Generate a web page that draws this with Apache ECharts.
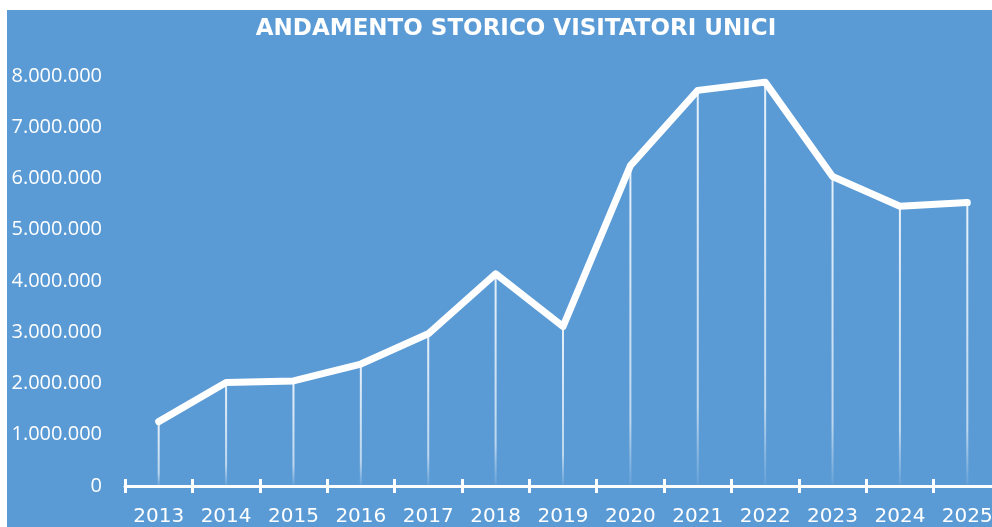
<!doctype html>
<html>
<head>
    <meta charset="UTF-8">
    <title>andamento_visitatori</title>
    <script src="https://cdn.jsdelivr.net/npm/echarts@6/dist/echarts.min.js"></script>
    <style>
        html, body {
            margin: 0;
            padding: 0;
            background: #ffffff;
            overflow: hidden;
        }
        #main {
            position: absolute;
            left: 7px;
            top: 10px;
            width: 994px;
            height: 517px;
            background: #5b9bd5;
        }
    </style>
</head>
<body>
    <div id="main"></div>

    <script>
        var chartTitle = 'ANDAMENTO STORICO VISITATORI UNICI';
        var years = ['2013', '2014', '2015', '2016', '2017', '2018', '2019',
                     '2020', '2021', '2022', '2023', '2024', '2025'];
        var visitors = [1256000, 2018000, 2050000, 2380000, 2970000, 4140000, 3110000,
                        6250000, 7720000, 7880000, 6040000, 5460000, 5530000];
        var yTicks = [0, 8000000, 1000000]; // min, max, step

        function formatIt(v) {
            return String(v).replace(/\B(?=(\d{3})+(?!\d))/g, '.');
        }

        // the plot runs a little past the right edge of the window, like the original
        var myChart = echarts.init(document.getElementById('main'));

        var labelFont = '"Open Sans", "Liberation Sans", sans-serif';
        var wideFont = '"DejaVu Sans", sans-serif';

        var option = {
            animation: false,
            backgroundColor: '#5b9bd5',
            title: {
                text: chartTitle,
                left: 511 - 7,
                top: 3,
                textAlign: 'center',
                textStyle: {
                    color: '#ffffff',
                    fontSize: 23,
                    fontWeight: 'bold',
                    fontFamily: wideFont
                }
            },
            grid: [{
                left: 118,
                right: 0,
                top: 66,
                bottom: 41
            }, {
                // thin strip around the x axis, its split lines make the cross ticks
                left: 118,
                right: 0,
                top: 469,
                height: 14
            }],
            xAxis: [{
                type: 'category',
                data: years,
                boundaryGap: true,
                axisLine: {
                    lineStyle: { color: '#ffffff', width: 3 }
                },
                axisTick: {
                    interval: 0,
                    length: 7,
                    lineStyle: { color: '#ffffff', width: 3 }
                },
                axisLabel: {
                    interval: 0,
                    color: '#ffffff',
                    fontSize: 20,
                    fontFamily: wideFont,
                    margin: 21
                },
                splitLine: { show: false }
            }, {
                type: 'category',
                gridIndex: 1,
                data: years,
                boundaryGap: true,
                axisLine: { show: false },
                axisTick: { show: false },
                axisLabel: { show: false },
                splitLine: {
                    show: true,
                    interval: 0,
                    lineStyle: { color: '#ffffff', width: 3 }
                }
            }],
            yAxis: [{
                type: 'value',
                min: yTicks[0],
                max: yTicks[1],
                interval: yTicks[2],
                axisLine: { show: false },
                axisTick: { show: false },
                splitLine: { show: false },
                axisLabel: {
                    color: '#ffffff',
                    fontSize: 20,
                    fontFamily: labelFont,
                    margin: 23,
                    formatter: formatIt
                }
            }, {
                type: 'value',
                gridIndex: 1,
                show: false,
                splitLine: { show: false }
            }],
            series: [{
                // drop lines
                type: 'bar',
                data: visitors,
                barWidth: 2,
                silent: true,
                z: 1,
                itemStyle: {
                    color: {
                        type: 'linear',
                        x: 0, y: 0, x2: 0, y2: 1,
                        colorStops: [
                            { offset: 0, color: 'rgba(255,255,255,0.85)' },
                            { offset: 0.8, color: 'rgba(255,255,255,0.6)' },
                            { offset: 1, color: 'rgba(255,255,255,0.05)' }
                        ]
                    }
                }
            }, {
                type: 'line',
                data: visitors,
                symbol: 'none',
                z: 3,
                lineStyle: {
                    color: '#ffffff',
                    width: 7,
                    cap: 'round',
                    join: 'round'
                }
            }]
        };

        myChart.setOption(option);
    </script>
</body>
</html>
